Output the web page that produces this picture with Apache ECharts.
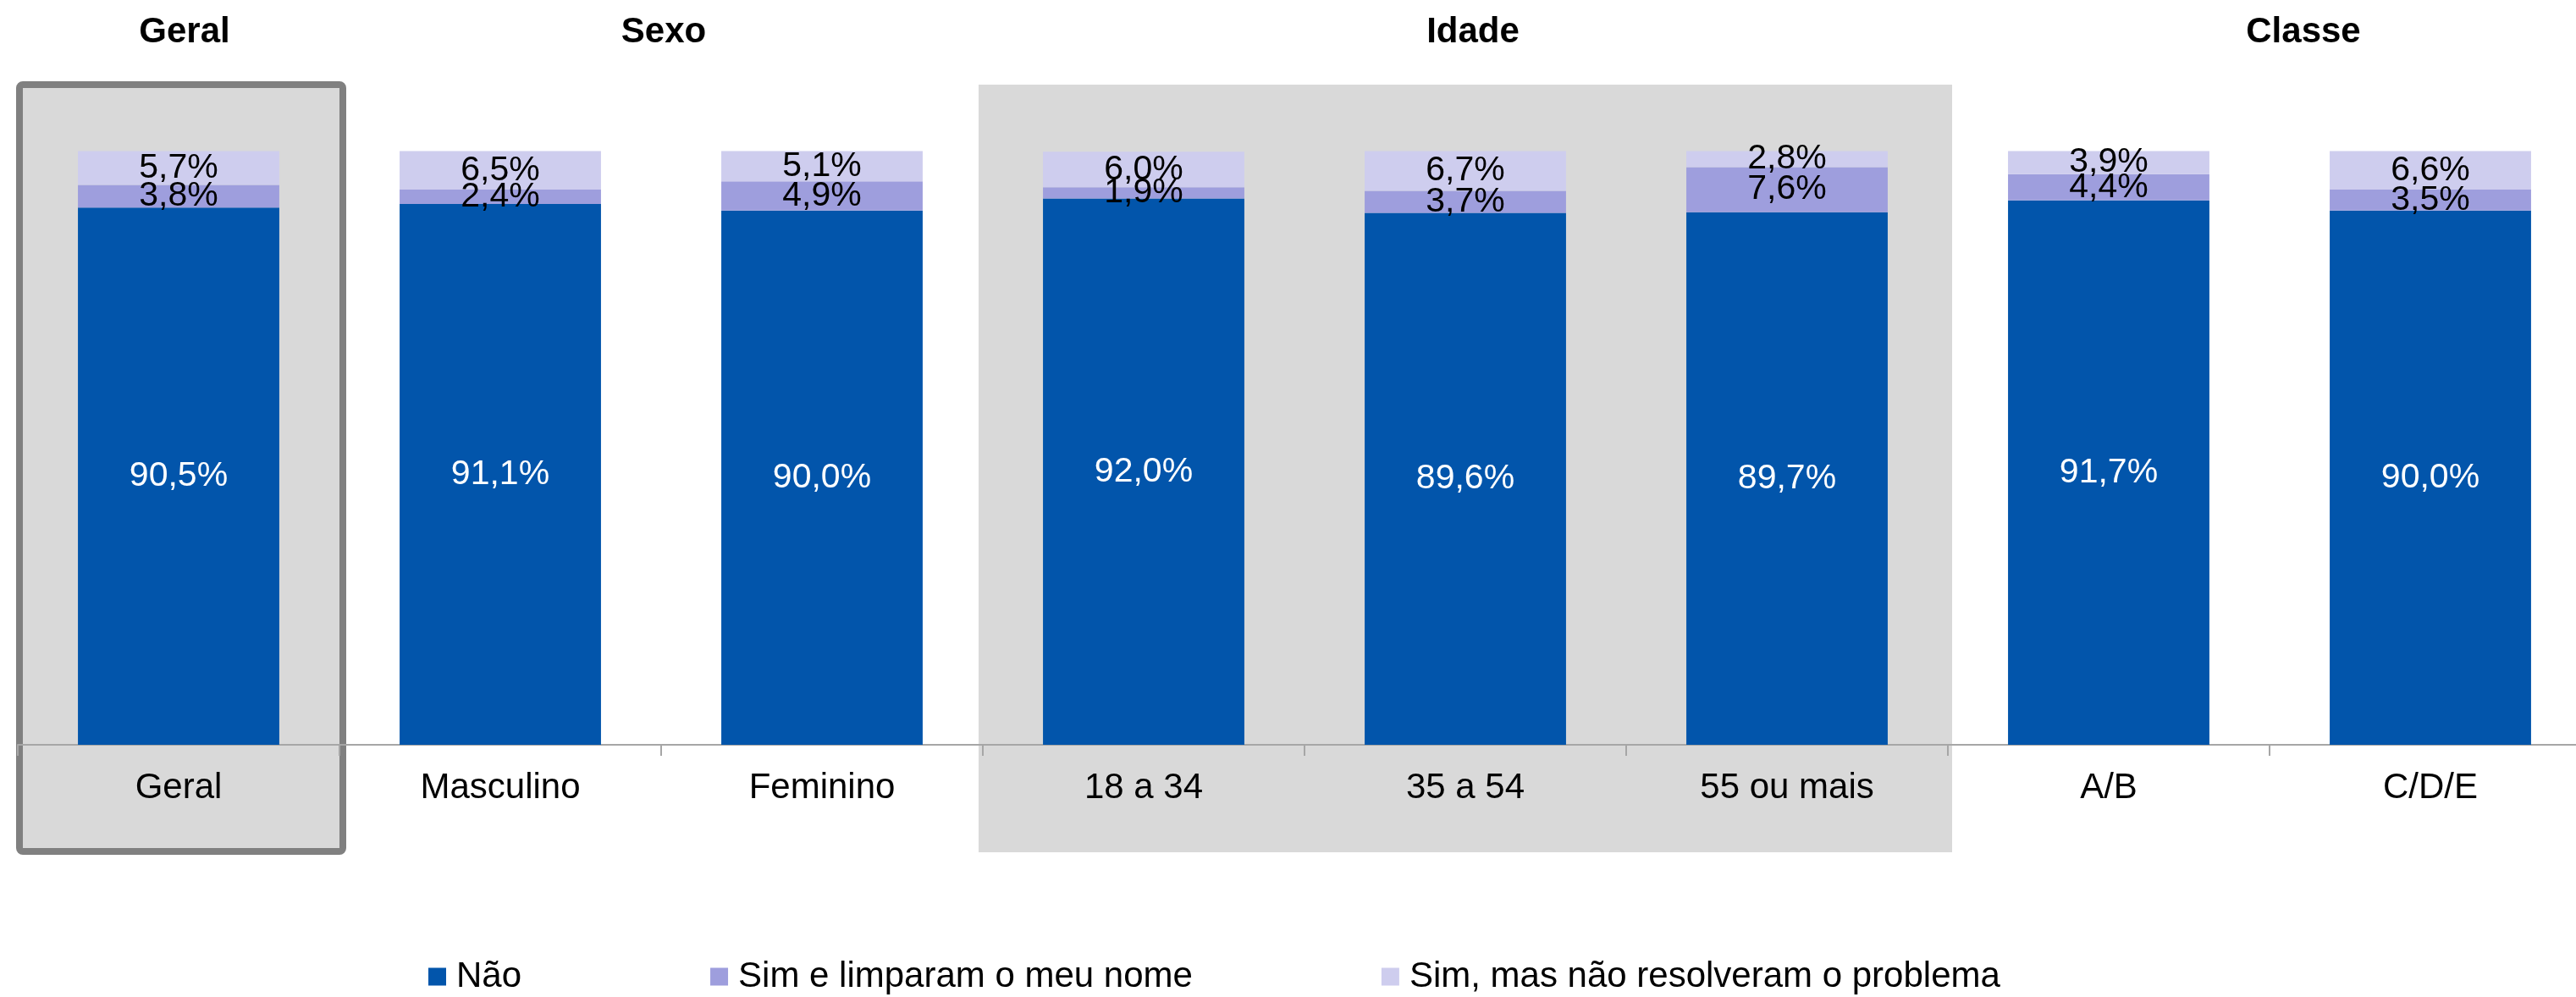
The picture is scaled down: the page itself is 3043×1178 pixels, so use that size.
<!DOCTYPE html>
<html>
<head>
<meta charset="utf-8">
<script src="https://cdn.jsdelivr.net/npm/echarts@6/dist/echarts.min.js"></script>
<style>
  html, body { margin: 0; padding: 0; background: #fff; }
  #chart { width: 3043px; height: 1178px; }
</style>
</head>
<body>
<div id="chart"></div>
<script>
const categories = ['Geral', 'Masculino', 'Feminino', '18 a 34', '35 a 54', '55 ou mais', 'A/B', 'C/D/E']
const seriesNames = ['Não', 'Sim e limparam o meu nome', 'Sim, mas não resolveram o problema']
const naoValues = [90.5, 91.1, 90.0, 92.0, 89.6, 89.7, 91.7, 90.0]
const limparamValues = [3.8, 2.4, 4.9, 1.9, 3.7, 7.6, 4.4, 3.5]
const naoResolveramValues = [5.7, 6.5, 5.1, 6.0, 6.7, 2.8, 3.9, 6.6]
const groupTitles = ['Geral', 'Sexo', 'Idade', 'Classe']

const FONT = '"Liberation Sans", Arial, sans-serif'
const colors = ['#0255ab', '#9e9edd', '#cecdee']

const fmt = (p) => p.value.toFixed(1).replace('.', ',') + '%'

const chart = echarts.init(document.getElementById('chart'))

const makeSeries = (name, data, color, labelColor) => ({
  name,
  type: 'bar',
  stack: 'total',
  data,
  barWidth: '62.6%',
  itemStyle: { color },
  label: {
    show: true,
    position: 'inside',
    formatter: fmt,
    color: labelColor,
    fontFamily: FONT,
    fontSize: 41
  }
})

chart.setOption({
  animation: false,
  // a grade passa um pouco da borda direita, como no original
  grid: { left: 21, width: 3040, top: 178.5, bottom: 298, containLabel: false, outerBoundsMode: 'none' },
  xAxis: {
    type: 'category',
    data: categories,
    axisLine: { lineStyle: { color: '#a6a6a6', width: 2 } },
    axisTick: { show: true, length: 13, lineStyle: { color: '#a6a6a6', width: 2 } },
    axisLabel: { color: '#000', fontFamily: FONT, fontSize: 42, margin: 30 }
  },
  yAxis: { type: 'value', min: 0, max: 100, show: false },
  legend: {
    left: 501,
    top: 1128,
    itemWidth: 21,
    itemHeight: 21,
    itemGap: 223,
    icon: 'rect',
    textStyle: { fontFamily: FONT, fontSize: 42, color: '#000', padding: [0, 0, 0, 7] },
    data: seriesNames
  },
  series: [
    makeSeries(seriesNames[0], naoValues, colors[0], '#fff'),
    makeSeries(seriesNames[1], limparamValues, colors[1], '#000'),
    makeSeries(seriesNames[2], naoResolveramValues, colors[2], '#000')
  ]
})

// fundos cinza e títulos dos grupos, posicionados pelo eixo
const px = (c) => chart.convertToPixel({ xAxisIndex: 0 }, c)
const bw = px(categories[1]) - px(categories[0])
const geralX = px('Geral') - bw / 2
const idadeX = px('18 a 34') - bw / 2
const idadeEnd = px('55 ou mais') + bw / 2

const titleX = [px('Geral') + 7, px('Masculino') + bw / 2 + 3, px('35 a 54') + 9, px('A/B') + bw / 2 + 40]

chart.setOption({
  graphic: [
    {
      type: 'rect',
      z: -1,
      shape: { x: geralX + 2, y: 100, width: bw + 2, height: 906, r: 4 },
      style: { fill: '#d9d9d9', stroke: '#808080', lineWidth: 8 }
    },
    {
      type: 'rect',
      z: -1,
      shape: { x: idadeX - 5, y: 100, width: idadeEnd - idadeX + 10, height: 907 },
      style: { fill: '#d9d9d9' }
    },
    ...groupTitles.map((t, i) => ({
      type: 'text',
      x: titleX[i],
      y: 38,
      style: {
        text: t,
        font: 'bold 42px ' + FONT,
        fill: '#000',
        textAlign: 'center',
        textVerticalAlign: 'middle'
      }
    }))
  ]
})
</script>
</body>
</html>
